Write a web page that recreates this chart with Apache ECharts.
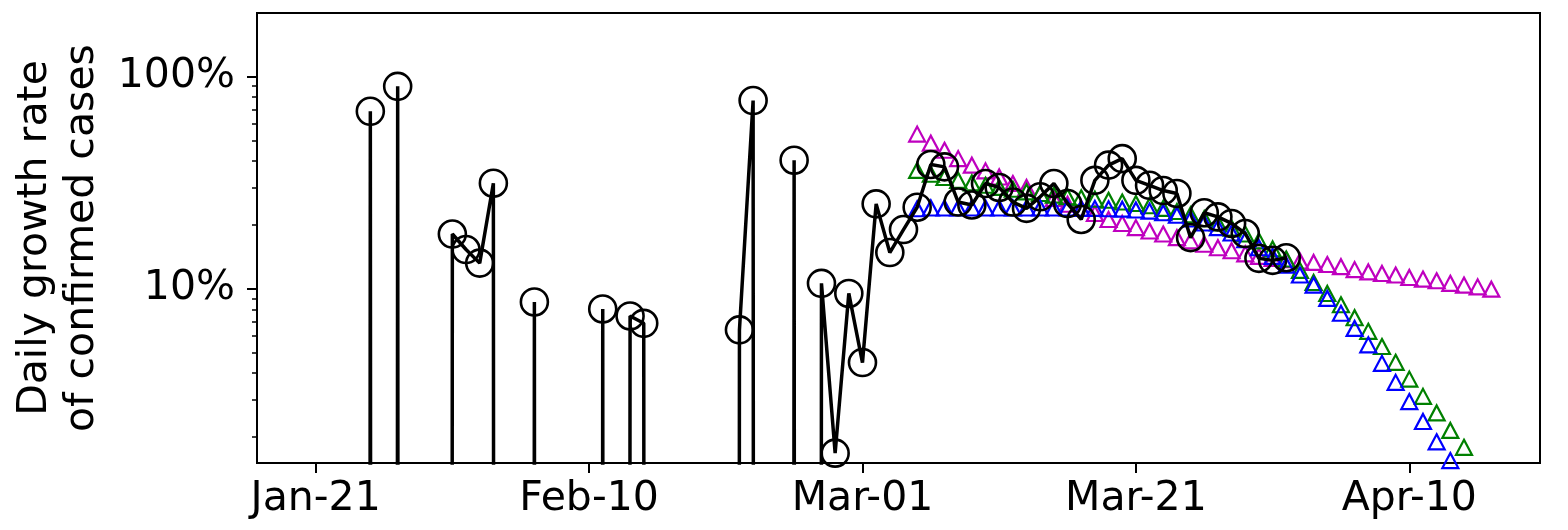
<!DOCTYPE html>
<html><head><meta charset="utf-8">
<script src="https://cdn.jsdelivr.net/npm/echarts@6/dist/echarts.min.js"></script>
<style>html,body{margin:0;padding:0;background:#fff}#c{width:1568px;height:530px}</style>
</head><body><div id="c"></div>
<script>
// x positions are days counted from Jan-21 (2020)
const tickDays = [0, 20, 40, 60, 80];
const tickLabels = ['Jan-21', 'Feb-10', 'Mar-01', 'Mar-21', 'Apr-10'];
const yMajorTicks = [10, 100];
const yMinorTicks = [2, 3, 4, 5, 6, 7, 8, 9, 20, 30, 40, 50, 60, 70, 80, 90];

// observed daily growth rate (%), one value per day starting Jan-21; 0 = no growth that day
const observedStartDay = 0;
const observed = [0, 0, 0, 0, 68.5, 0, 89.8, 0, 0, 0, 18.1, 15.3, 13.2, 31.4, 0, 0, 8.66, 0, 0, 0,
  0, 8.03, 0, 7.44, 6.87, 0, 0, 0, 0, 0, 0, 6.4, 77, 0, 0, 40.3, 0, 10.6, 1.68, 9.5,
  4.49, 25.1, 14.8, 19.0, 24.2, 38.5, 37.5, 25.6, 24.8, 31.3, 30.0, 25.6, 23.9, 27.1, 31.3, 25.2, 21.2, 32.4, 38.2, 41.0,
  32.4, 30.7, 29.0, 28.1, 17.4, 22.8, 21.8, 20.3, 18.2, 13.9, 13.6, 14.0];

// projected daily growth rate (%), one value per day starting Mar-05
const projStartDay = 44;
const projMagenta = [53.5, 48.5, 44.9, 41.0, 38.2, 35.9, 33.6, 31.3, 30.0, 28.1, 26.6, 25.0, 23.9, 22.6, 21.2, 20.3,
  19.4, 18.7, 18.1, 17.4, 16.8, 16.2, 15.6, 15.1, 14.6, 14.2, 13.9, 13.7, 13.5, 13.3, 13.0, 12.7, 12.3, 12.0,
  11.8, 11.6, 11.3, 11.1, 10.9, 10.6, 10.4, 10.2, 9.95];
const projGreen = [36.1, 34.6, 33.4, 32.4, 31.5, 30.7, 30.0, 29.4, 28.6, 28.1, 27.6, 27.1, 26.8, 26.4, 26.1, 25.6,
  25.2, 24.6, 23.9, 23.1, 22.3, 21.4, 20.4, 19.3, 18.1, 16.8, 15.4, 13.8, 12.2, 10.7, 9.5, 8.4, 7.3, 6.3,
  5.34, 4.5, 3.75, 3.11, 2.6, 2.15, 1.79, 1.5];
const projBlue = [23.8, 24.0, 24.0, 24.0, 24.0, 24.0, 24.0, 24.0, 24.0, 24.0, 24.0, 24.0, 23.9, 23.9, 23.8, 23.7,
  23.5, 23.2, 22.8, 22.2, 21.3, 20.4, 19.4, 18.3, 17.0, 15.6, 14.2, 12.9, 11.6, 10.4, 9.0, 7.66, 6.5, 5.44,
  4.45, 3.62, 2.94, 2.37, 1.9, 1.55];

// a log axis cannot show 0: like matplotlib's clipping, send zeros far below the axis
const ZERO_ON_LOG = 1e-100;
const toPairs = (start, arr) => arr.map((v, i) => [start + i, v > 0 ? v : ZERO_ON_LOG]);

const FONT = 'DejaVu Sans';
const X_MIN = -4.29, X_MAX = 89.56;
const Y_MIN = 1.51, Y_MAX = 199;

const triSeries = (name, arr, color) => ({
  name, type: 'scatter', xAxisIndex: 0, yAxisIndex: 0,
  data: toPairs(projStartDay, arr),
  symbol: 'triangle', symbolSize: [16, 15],
  itemStyle: { color: 'rgba(0,0,0,0)', borderColor: color, borderWidth: 2.2, opacity: 1 },
  emphasis: { disabled: true }, clip: true
});

const chart = echarts.init(document.getElementById('c'), null, { renderer: 'canvas' });
chart.setOption({
  animation: false,
  backgroundColor: '#fff',
  grid: { left: 257, right: 28, top: 13, bottom: 67, show: true, borderColor: '#000', borderWidth: 2, backgroundColor: 'transparent' },
  xAxis: {
    type: 'value', min: X_MIN, max: X_MAX,
    axisLine: { show: true, onZero: false, lineStyle: { color: '#000', width: 2 } },
    axisTick: { show: true, customValues: tickDays, length: 10, lineStyle: { color: '#000', width: 2 } },
    axisLabel: {
      customValues: tickDays, margin: 16, color: '#000', fontFamily: FONT, fontSize: 41,
      formatter: v => tickLabels[tickDays.indexOf(Math.round(v))] || ''
    },
    splitLine: { show: false }
  },
  yAxis: [{
    type: 'log', logBase: 10, min: Y_MIN, max: Y_MAX,
    name: 'Daily growth rate\nof confirmed cases', nameLocation: 'middle', nameRotate: 90, nameGap: 151,
    nameTextStyle: { color: '#000', fontFamily: FONT, fontSize: 41, lineHeight: 47, align: 'center' },
    axisLine: { show: true, onZero: false, lineStyle: { color: '#000', width: 2 } },
    axisTick: { show: true, customValues: yMajorTicks, length: 10, lineStyle: { color: '#000', width: 2 } },
    axisLabel: {
      customValues: yMajorTicks, margin: 22, color: '#000', fontFamily: FONT, fontSize: 41,
      formatter: v => Math.round(v) + '%'
    },
    minorTick: { show: false },
    splitLine: { show: false }
  }, {
    type: 'log', logBase: 10, min: Y_MIN, max: Y_MAX, position: 'left', offset: 0,
    axisLine: { show: false, onZero: false },
    axisTick: { show: true, customValues: yMinorTicks, length: 5, lineStyle: { color: '#000', width: 1.5 } },
    axisLabel: { show: false },
    splitLine: { show: false }
  }],
  series: [
    triSeries('magenta', projMagenta, '#bf00bf'),
    triSeries('green', projGreen, '#008000'),
    triSeries('blue', projBlue, '#0000ff'),
    {
      name: 'observed', type: 'line', xAxisIndex: 0, yAxisIndex: 0,
      data: toPairs(observedStartDay, observed),
      clip: true, showAllSymbol: true,
      symbol: 'circle', symbolSize: 27,
      lineStyle: { color: '#000', width: 3.5 },
      itemStyle: { color: 'rgba(0,0,0,0)', borderColor: '#000', borderWidth: 2.6 },
      emphasis: { disabled: true }, z: 5
    }
  ]
});
</script></body></html>
